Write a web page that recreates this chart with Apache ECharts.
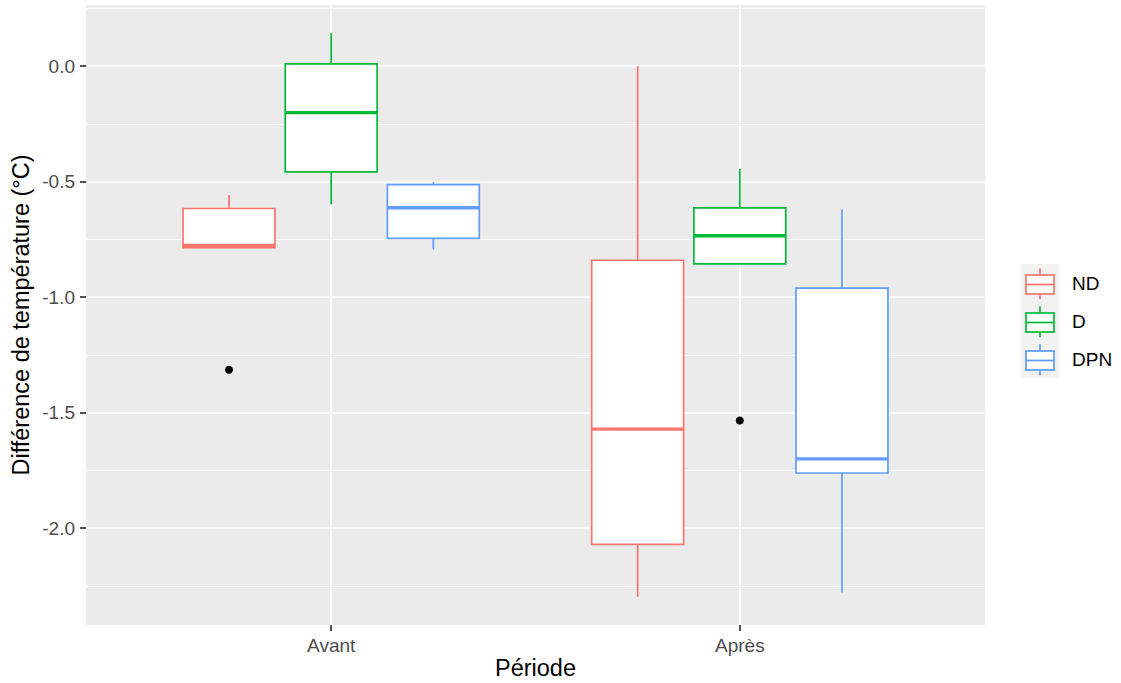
<!DOCTYPE html>
<html><head><meta charset="utf-8">
<script src="https://cdn.jsdelivr.net/npm/echarts@6/dist/echarts.min.js"></script>
<style>html,body{margin:0;padding:0;background:#fff}#c{width:1121px;height:683px}</style>
</head><body><div id="c"></div>
<script>
// ---- data ----
const categories = ['Avant', 'Après'];
const groups = ['ND', 'D', 'DPN'];
// [lower whisker, Q1, median, Q3, upper whisker] for each period
const ndStats  = [[-0.785, -0.785, -0.776, -0.616, -0.557], [-2.297, -2.070, -1.571, -0.840, 0.000]];
const dStats   = [[-0.598, -0.457, -0.201,  0.010,  0.143], [-0.856, -0.856, -0.734, -0.613, -0.445]];
const dpnStats = [[-0.794, -0.745, -0.613, -0.513, -0.502], [-2.278, -1.761, -1.700, -0.961, -0.620]];
// outliers for each period
const ndOutliers  = [[-1.314], []];
const dOutliers   = [[], [-1.534]];
const dpnOutliers = [[], []];
const yTicks = [0, -0.5, -1.0, -1.5, -2.0];
const yTickLabels = ['0.0', '-0.5', '-1.0', '-1.5', '-2.0'];
const yMinorTicks = [0.25, -0.25, -0.75, -1.25, -1.75, -2.25];

// ---- style / layout ----
const colors = ['#F8766D', '#00BA38', '#619CFF'];
const dodge = [-0.25, 0, 0.25];
const BOX_W = 0.225;
const LW = 1.7;
const FONT = 'Liberation Sans, Arial, sans-serif';
const allStats = [ndStats, dStats, dpnStats];
const allOutliers = [ndOutliers, dOutliers, dpnOutliers];

function boxRenderer(offset, color) {
  return function (params, api) {
    const xc = api.value(0) + offset;
    const p = k => api.coord([xc, api.value(k)]);
    const lo = p(1), q1 = p(2), med = p(3), q3 = p(4), hi = p(5);
    const w = api.size([BOX_W, 0])[0];
    const x0 = lo[0] - w / 2;
    const line = (x1, y1, x2, y2, lw) => ({
      type: 'line', shape: { x1, y1, x2, y2 },
      style: { stroke: color, lineWidth: lw, lineCap: 'butt' }
    });
    return {
      type: 'group',
      children: [
        line(lo[0], hi[1], lo[0], q3[1], LW),
        line(lo[0], q1[1], lo[0], lo[1], LW),
        { type: 'rect', shape: { x: x0, y: q3[1], width: w, height: q1[1] - q3[1] },
          style: { fill: '#ffffff', stroke: color, lineWidth: LW } },
        line(x0, med[1], x0 + w, med[1], LW * 2)
      ]
    };
  };
}

function keyIcon(color) {
  const svg = "<svg xmlns='http://www.w3.org/2000/svg' width='38' height='38'>" +
    "<rect x='0' y='0' width='38' height='38' fill='#F2F2F2'/>" +
    "<line x1='19' y1='4.3' x2='19' y2='11' stroke='" + color + "' stroke-width='1.7'/>" +
    "<line x1='19' y1='30' x2='19' y2='35.3' stroke='" + color + "' stroke-width='1.7'/>" +
    "<rect x='5' y='11' width='28' height='19' fill='#ffffff' stroke='" + color + "' stroke-width='1.7'/>" +
    "<line x1='5' y1='20.5' x2='33' y2='20.5' stroke='" + color + "' stroke-width='1.7'/>" +
    "</svg>";
  return 'image://data:image/svg+xml;charset=utf-8,' + encodeURIComponent(svg);
}

const series = groups.map((g, gi) => ({
  name: g,
  type: 'custom',
  renderItem: boxRenderer(dodge[gi], colors[gi]),
  encode: { x: 0, y: [1, 2, 3, 4, 5] },
  itemStyle: { color: colors[gi] },
  data: allStats[gi].map((s, ci) => [ci + 1].concat(s)),
  z: 2
}));

const outlierData = [];
allOutliers.forEach((arr, gi) => arr.forEach((vals, ci) => vals.forEach(v => outlierData.push([ci + 1 + dodge[gi], v]))));
series.push({
  name: 'outliers', type: 'scatter', data: outlierData,
  symbolSize: 8, itemStyle: { color: '#000000', opacity: 1 }, z: 5, silent: true
});

const chart = echarts.init(document.getElementById('c'), null, { renderer: 'svg' });
chart.setOption({
  animation: false,
  backgroundColor: '#ffffff',
  textStyle: { fontFamily: FONT },
  grid: { left: 86, right: 136, top: 5, bottom: 58, show: true, backgroundColor: '#EBEBEB', borderWidth: 0,
    containLabel: false, outerBoundsMode: 'none' },
  legend: {
    orient: 'vertical', left: 1021, top: 264, itemGap: 0, itemWidth: 38, itemHeight: 38, padding: 0,
    selectedMode: false,
    data: groups.map((g, gi) => ({ name: g, icon: keyIcon(colors[gi]) })),
    textStyle: { fontSize: 19, color: '#000000', fontFamily: FONT, padding: [0, 0, 0, 8] }
  },
  xAxis: {
    type: 'value', min: 0.4, max: 2.6,
    name: 'Période', nameLocation: 'middle', nameGap: 31, nameMoveOverlap: false,
    nameTextStyle: { fontSize: 23.5, lineHeight: 23, color: '#000000', fontFamily: FONT },
    axisLine: { show: false, onZero: false },
    axisTick: { show: true, length: 6, customValues: [1, 2], lineStyle: { color: '#333333', width: 1.7 } },
    axisLabel: { customValues: [1, 2], margin: 11, fontSize: 19, color: '#4D4D4D', fontFamily: FONT,
      formatter: v => categories[Math.round(v) - 1] },
    splitLine: { show: true, lineStyle: { color: '#ffffff', width: 1.7 } }
  },
  yAxis: [{
    type: 'value', min: -2.419, max: 0.265,
    name: 'Différence de température (°C)', nameLocation: 'middle', nameGap: 53, nameRotate: 90,
    nameMoveOverlap: false,
    nameTextStyle: { fontSize: 23.5, color: '#000000', fontFamily: FONT },
    axisLine: { show: false, onZero: false },
    axisTick: { show: true, length: 6, customValues: yTicks, lineStyle: { color: '#333333', width: 1.7 } },
    axisLabel: { customValues: yTicks, margin: 11, fontSize: 19, color: '#4D4D4D', fontFamily: FONT,
      formatter: v => yTickLabels[yTicks.findIndex(t => Math.abs(t - v) < 1e-6)] },
    splitLine: { show: true, lineStyle: { color: '#ffffff', width: 1.7 } },
    z: 1
  }, {
    type: 'value', min: -2.419, max: 0.265, position: 'left',
    axisLine: { show: false, onZero: false },
    axisTick: { show: false, customValues: yMinorTicks },
    axisLabel: { show: false, customValues: yMinorTicks },
    splitLine: { show: true, lineStyle: { color: '#ffffff', width: 0.9 } },
    z: 0
  }],
  series: series
});
</script>
</body></html>
